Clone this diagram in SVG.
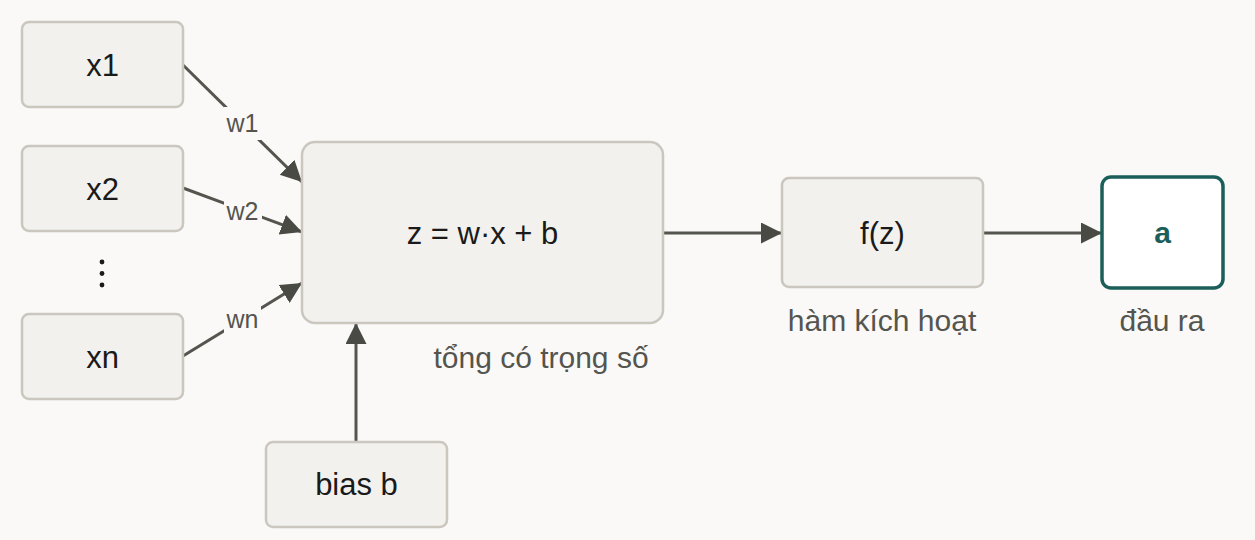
<svg xmlns="http://www.w3.org/2000/svg" width="1255" height="540" viewBox="0 0 1255 540">
<style>
.bg{fill:#faf9f7}
.node{fill:#f2f1ee;stroke:#cbc7be;stroke-width:2.5}
.out{fill:#ffffff;stroke:#1b5e5a;stroke-width:3.5}
.t{font-family:"Liberation Sans",Arial,sans-serif;font-size:31px;fill:#1a1a1a;text-anchor:middle}
.tb{font-family:"Liberation Sans",Arial,sans-serif;font-size:30px;font-weight:bold;fill:#1b5e5a;text-anchor:middle}
.cap{font-family:"Liberation Sans",Arial,sans-serif;font-size:30px;fill:#55554f;text-anchor:middle}
.lbl{font-family:"Liberation Sans",Arial,sans-serif;font-size:25px;fill:#55554f;text-anchor:middle}
.edge{stroke:#55554f;stroke-width:3;fill:none;marker-end:url(#ah)}
.dot{fill:#1a1a1a}
</style>
<defs>
<marker id="ah" markerUnits="userSpaceOnUse" markerWidth="22" markerHeight="22" refX="21" refY="10.5" orient="auto">
<path d="M0,0 L21,10.5 L0,21 z" fill="#4a4a45"/>
</marker>
</defs>
<rect class="bg" x="0" y="0" width="1255" height="540"/>
<g id="connectors">
<line class="edge" x1="183" y1="65" x2="302" y2="182"/>
<line class="edge" x1="183" y1="188" x2="302" y2="232"/>
<line class="edge" x1="183" y1="356" x2="302" y2="283"/>
<line class="edge" x1="356" y1="442" x2="356" y2="323"/>
<line class="edge" x1="663" y1="233" x2="782" y2="233"/>
<line class="edge" x1="983" y1="233" x2="1102" y2="233"/>
<rect class="bg" x="224" y="107" width="37" height="33"/>
<rect class="bg" x="224" y="195" width="38" height="32"/>
<rect class="bg" x="224" y="303" width="37" height="33"/>
<text class="lbl" x="242.5" y="132">w1</text>
<text class="lbl" x="242.5" y="220">w2</text>
<text class="lbl" x="242.5" y="328">wn</text>
</g>
<g id="x1"><rect class="node" x="22" y="22" width="161" height="85" rx="7"/><text class="t" x="102.5" y="76">x1</text></g>
<g id="x2"><rect class="node" x="22" y="146" width="161" height="85" rx="7"/><text class="t" x="102.5" y="200">x2</text></g>
<g id="dots"><circle class="dot" cx="102" cy="262" r="2.4"/><circle class="dot" cx="102" cy="273.5" r="2.4"/><circle class="dot" cx="102" cy="285" r="2.4"/></g>
<g id="xn"><rect class="node" x="22" y="314" width="161" height="85" rx="7"/><text class="t" x="102.5" y="368">xn</text></g>
<g id="sum"><rect class="node" x="302" y="142" width="361" height="181" rx="13"/><text class="t" x="482.5" y="244">z = w·x + b</text><text class="cap" x="541" y="368">tổng có trọng số</text></g>
<g id="bias"><rect class="node" x="266" y="442" width="181" height="85" rx="7"/><text class="t" x="356.5" y="495">bias b</text></g>
<g id="act"><rect class="node" x="782" y="178" width="201" height="109" rx="7"/><text class="t" x="882.5" y="244">f(z)</text><text class="cap" x="882" y="331">hàm kích hoạt</text></g>
<g id="out"><rect class="out" x="1102" y="177" width="121" height="111" rx="9"/><text class="tb" x="1162.5" y="243">a</text><text class="cap" x="1162" y="331">đầu ra</text></g>
</svg>
